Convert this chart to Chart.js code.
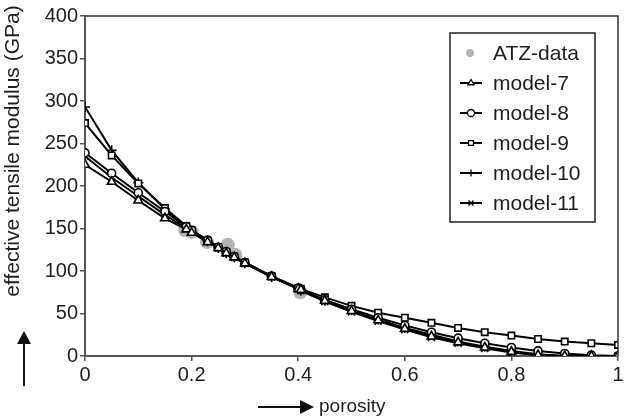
<!DOCTYPE html>
<html lang="en">
<head>
    <meta charset="UTF-8">
    <title>Effective tensile modulus vs porosity</title>
    <script src="https://cdn.jsdelivr.net/npm/chart.js"></script>
    <style>
        body {
            margin: 0;
            padding: 0;
            background-color: #fff;
        }
        #wrap {
            width: 627px;
            height: 419px;
        }
    </style>
</head>
<body>
    <div id="wrap">
        <canvas id="modulus-chart" width="627" height="419"></canvas>
    </div>

    <script>
        // porosity values where the models were evaluated (incl. the data porosities)
        const porosity = [0, 0.05, 0.1, 0.15, 0.19, 0.2, 0.23, 0.25, 0.265, 0.28, 0.3, 0.35, 0.4, 0.405,
                          0.45, 0.5, 0.55, 0.6, 0.65, 0.7, 0.75, 0.8, 0.85, 0.9, 0.95, 1];

        const model7  = [225, 205, 183, 162, 149, 145, 134, 127, 121, 116, 109, 93, 79, 78, 65, 53, 42, 32, 23, 16, 10, 5, 1, 0, 0, 0];
        const model8  = [239, 215, 192, 170, 152, 148, 136, 128, 123, 117, 110, 94, 80, 78, 66, 55, 45, 36, 28, 21, 15, 10, 6, 3, 1, 0];
        const model9  = [274, 236, 203, 174, 153, 148, 136, 128, 122, 117, 110, 94, 80, 79, 69, 59, 51, 45, 39, 33, 28, 24, 20, 17, 15, 13];
        const model10 = [293, 242, 204, 173, 152, 147, 135, 127, 121, 116, 109, 93, 79, 77, 65, 54, 43, 33, 25, 17, 11, 6, 2, 0, 0, 0];
        const model11 = [235, 210, 188, 166, 150, 146, 135, 127, 121, 116, 109, 93, 79, 77, 64, 52, 41, 31, 22, 15, 9, 4, 1, 0, 0, 0];

        // measured ATZ data
        const atzPorosity = [0.188, 0.2, 0.229, 0.268, 0.282, 0.404];
        const atzModulus  = [148, 146, 134, 131, 119, 75];

        const xTicks = [0, 0.2, 0.4, 0.6, 0.8, 1];
        const yTicks = [0, 50, 100, 150, 200, 250, 300, 350, 400];

        const FONT = '"Liberation Sans", Arial, sans-serif';
        const TEXT = '#1e1e1e';

        function pts(xs, ys) {
            return xs.map((x, i) => ({ x: x, y: ys[i] }));
        }

        function modelSet(label, values, style, radius) {
            return {
                label: label,
                data: pts(porosity, values),
                borderColor: '#000',
                borderWidth: 2,
                pointStyle: style,
                pointRadius: radius,
                pointBorderWidth: 1.6,
                pointBorderColor: '#000',
                pointBackgroundColor: '#fff',
                showLine: true,
                tension: 0,
                order: 0
            };
        }

        // legend drawn inside the plot, plus frame, arrows and axis titles
        const decorations = {
            id: 'decorations',
            afterDraw(chart) {
                const ctx = chart.ctx;
                const a = chart.chartArea;
                ctx.save();

                // top and right frame lines
                ctx.strokeStyle = '#333';
                ctx.lineWidth = 1.5;
                ctx.beginPath();
                ctx.moveTo(a.left, a.top);
                ctx.lineTo(a.right, a.top);
                ctx.lineTo(a.right, a.bottom);
                ctx.stroke();

                // legend box
                const lx = 450, ly = 33, lw = 145, lh = 189;
                ctx.fillStyle = '#fff';
                ctx.fillRect(lx, ly, lw, lh);
                ctx.strokeStyle = '#222';
                ctx.lineWidth = 1.5;
                ctx.strokeRect(lx, ly, lw, lh);

                const items = chart.data.datasets;
                ctx.font = '21px ' + FONT;
                ctx.textBaseline = 'middle';
                ctx.textAlign = 'left';
                items.forEach((ds, i) => {
                    const y = 53 + i * 30;
                    if (ds.showLine) {
                        ctx.strokeStyle = '#000';
                        ctx.lineWidth = 2;
                        ctx.beginPath();
                        ctx.moveTo(460, y);
                        ctx.lineTo(482, y);
                        ctx.stroke();
                        ctx.fillStyle = '#fff';
                        ctx.strokeStyle = '#000';
                        ctx.lineWidth = 1.3;
                        Chart.helpers.drawPoint(ctx, {
                            pointStyle: ds.pointStyle,
                            radius: 3.5,
                            borderWidth: 1.3
                        }, 471, y);
                    } else {
                        ctx.fillStyle = ds.pointBackgroundColor;
                        ctx.beginPath();
                        ctx.arc(470, y, 4, 0, Math.PI * 2);
                        ctx.fill();
                    }
                    ctx.fillStyle = TEXT;
                    ctx.fillText(ds.label, 493, y + 1);
                });

                // y-axis title
                ctx.save();
                ctx.translate(13, 151);
                ctx.rotate(-Math.PI / 2);
                ctx.textAlign = 'center';
                ctx.textBaseline = 'middle';
                ctx.font = '21px ' + FONT;
                ctx.fillStyle = TEXT;
                ctx.fillText('effective tensile modulus (GPa)', 0, 0);
                ctx.restore();

                // up arrow
                ctx.strokeStyle = '#111';
                ctx.fillStyle = '#111';
                ctx.lineWidth = 2;
                ctx.beginPath();
                ctx.moveTo(24, 386);
                ctx.lineTo(24, 342);
                ctx.stroke();
                ctx.beginPath();
                ctx.moveTo(24, 331);
                ctx.lineTo(17, 344);
                ctx.lineTo(31, 344);
                ctx.closePath();
                ctx.fill();

                // right arrow
                ctx.beginPath();
                ctx.moveTo(258, 407);
                ctx.lineTo(302, 407);
                ctx.stroke();
                ctx.beginPath();
                ctx.moveTo(314, 407);
                ctx.lineTo(300, 400);
                ctx.lineTo(300, 414);
                ctx.closePath();
                ctx.fill();

                ctx.font = '19px ' + FONT;
                ctx.fillStyle = TEXT;
                ctx.textAlign = 'left';
                ctx.textBaseline = 'middle';
                ctx.fillText('porosity', 319, 407);

                ctx.restore();
            }
        };

        const ctx = document.getElementById('modulus-chart').getContext('2d');
        const modulusChart = new Chart(ctx, {
            type: 'scatter',
            data: {
                datasets: [
                    {
                        label: 'ATZ-data',
                        data: pts(atzPorosity, atzModulus),
                        pointStyle: 'circle',
                        pointRadius: 7,
                        pointBorderWidth: 0,
                        pointBackgroundColor: '#b4b4b4',
                        pointBorderColor: '#b4b4b4',
                        showLine: false,
                        order: 1
                    },
                    modelSet('model-7', model7, 'triangle', 5),
                    modelSet('model-8', model8, 'circle', 4),
                    modelSet('model-9', model9, 'rect', 4.5),
                    modelSet('model-10', model10, 'cross', 5),
                    modelSet('model-11', model11, 'crossRot', 5)
                ]
            },
            options: {
                responsive: false,
                animation: false,
                layout: {
                    padding: { left: 0, right: 9, top: 16, bottom: 0 }
                },
                plugins: {
                    legend: { display: false },
                    tooltip: { enabled: false }
                },
                scales: {
                    x: {
                        type: 'linear',
                        min: 0,
                        max: 1,
                        afterFit: s => { s.height = 63; },
                        afterBuildTicks: s => { s.ticks = xTicks.map(v => ({ value: v })); },
                        grid: {
                            display: true,
                            drawOnChartArea: false,
                            drawTicks: true,
                            tickLength: 5,
                            color: '#555',
                            lineWidth: 1.5
                        },
                        border: { display: true, color: '#555', width: 2 },
                        ticks: {
                            color: TEXT,
                            font: { family: FONT, size: 20 },
                            padding: 2,
                            maxRotation: 0,
                            callback: v => String(v)
                        }
                    },
                    y: {
                        min: 0,
                        max: 400,
                        afterFit: s => { s.width = 85; },
                        afterBuildTicks: s => { s.ticks = yTicks.map(v => ({ value: v })); },
                        grid: {
                            display: true,
                            drawOnChartArea: false,
                            drawTicks: true,
                            tickLength: 5,
                            color: '#555',
                            lineWidth: 1.5
                        },
                        border: { display: true, color: '#555', width: 2 },
                        ticks: {
                            color: TEXT,
                            font: { family: FONT, size: 20 },
                            padding: 2
                        }
                    }
                }
            },
            plugins: [decorations]
        });
    </script>
</body>
</html>
